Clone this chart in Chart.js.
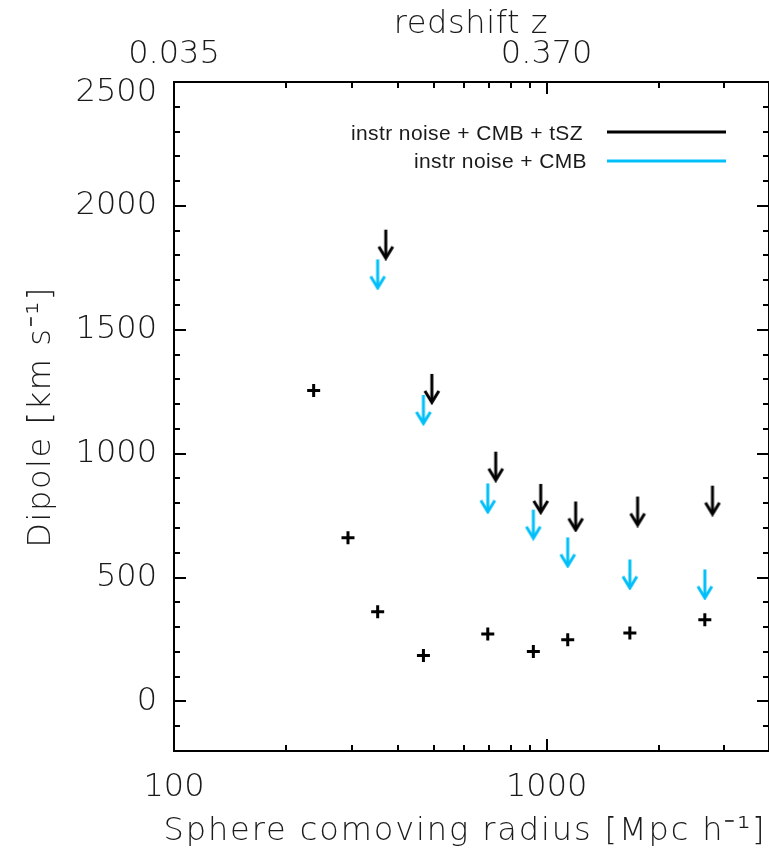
<!DOCTYPE html>
<html>
<head>
<meta charset="utf-8">
<script src="https://cdn.jsdelivr.net/npm/chart.js@4.4.1/dist/chart.umd.min.js"></script>
<style>
  html, body { margin: 0; padding: 0; background: #ffffff; }
  #wrap { width: 769px; height: 853px; position: relative; }
  canvas { display: block; }
</style>
</head>
<body>
<div id="wrap"><canvas id="chart" width="769" height="853"></canvas></div>
<script>
// ---- data ----
const radius    = [237, 293, 352, 467, 695, 921, 1139, 1672, 2657];
const dipole    = [1255, 661, 362, 185, 272, 202, 249, 276, 330];
const cmbRadius = [352, 467, 695, 921, 1139, 1672, 2657];
const cmbLimit  = [1784, 1237, 880, 774, 662, 573, 533];
const tszRadius = [370, 492, 730, 964, 1196, 1754, 2786];
const tszLimit  = [1904, 1322, 1008, 878, 807, 827, 871];

// ---- tick labels ----
const xLabelValues = [100, 1000];
const xLabels      = ['100', '1000'];
const zLabels      = ['0.035', '0.370'];
const yLabelValues = [0, 500, 1000, 1500, 2000, 2500];
const xMinorValues = [200, 300, 400, 500, 600, 700, 800, 900, 2000, 3000];

const seriesNames = ['instr noise + CMB + tSZ', 'instr noise + CMB'];
const xTitle = 'Sphere comoving radius [Mpc h\u207B\u00B9]';
const yTitle = 'Dipole [km s\u207B\u00B9]';
const zTitle = 'redshift z';

const BLACK = '#000000';
const CYAN = '#00bff9';
const TEXT = '#1a1a1a';
const AXIS_FONT = '"DejaVu Sans", "Liberation Sans", sans-serif';

function makeArrow(color) {
  const c = document.createElement('canvas');
  c.width = 18; c.height = 62;
  const g = c.getContext('2d');
  g.strokeStyle = color;
  g.lineWidth = 3;
  g.lineJoin = 'miter';
  g.beginPath(); g.moveTo(9, 31); g.lineTo(9, 59); g.stroke();
  g.beginPath(); g.moveTo(2, 48); g.lineTo(9, 59.5); g.lineTo(16, 48); g.stroke();
  return c;
}

const pts = (xs, ys) => xs.map((x, i) => ({ x: x, y: ys[i] }));

const framePlugin = {
  id: 'frame',
  beforeDatasetsDraw(chart) {
    const { ctx, chartArea: a, scales } = chart;
    const x = scales.x, y = scales.y;
    ctx.save();
    ctx.strokeStyle = BLACK;
    ctx.lineWidth = 2;
    ctx.beginPath();
    ctx.rect(a.left, a.top, a.right - a.left, a.bottom - a.top);
    ctx.stroke();
    ctx.beginPath();
    for (let v = -200; v <= 2500; v += 100) {
      const py = Math.round(y.getPixelForValue(v));
      const len = (v % 500 === 0) ? 12 : 6;
      ctx.moveTo(a.left, py); ctx.lineTo(a.left + len, py);
      ctx.moveTo(a.right, py); ctx.lineTo(a.right - len, py);
    }
    const xt = xMinorValues.map(v => [v, 6]).concat(xLabelValues.map(v => [v, 12]));
    xt.forEach(([v, len]) => {
      const px = Math.round(x.getPixelForValue(v));
      ctx.moveTo(px, a.bottom); ctx.lineTo(px, a.bottom - len);
      ctx.moveTo(px, a.top); ctx.lineTo(px, a.top + len);
    });
    ctx.stroke();
    ctx.restore();
  }
};

const titlePlugin = {
  id: 'titles',
  afterDraw(chart) {
    const ctx = chart.ctx;
    ctx.save();
    ctx.fillStyle = TEXT;
    ctx.font = '200 32px ' + AXIS_FONT;
    ctx.letterSpacing = '1.9px';
    ctx.textAlign = 'center';
    ctx.textBaseline = 'alphabetic';
    ctx.fillText(xTitle, 465, 840);
    ctx.letterSpacing = '0.6px';
    ctx.fillText(zTitle, 471, 33);
    ctx.letterSpacing = '1.6px';
    ctx.translate(50, 417);
    ctx.rotate(-Math.PI / 2);
    ctx.fillText(yTitle, 0, 0);
    ctx.restore();
  }
};

const legendPlugin = {
  id: 'legendLines',
  afterDraw(chart) {
    const ctx = chart.ctx;
    const items = [
      { ds: 2, textRight: 583, base: 139.5, lineY: 132 },
      { ds: 1, textRight: 587, base: 168.3, lineY: 161 }
    ];
    ctx.save();
    ctx.font = '21px "Liberation Sans", Arial, sans-serif';
    ctx.letterSpacing = '0.4px';
    ctx.textAlign = 'right';
    ctx.textBaseline = 'alphabetic';
    items.forEach(it => {
      const ds = chart.data.datasets[it.ds];
      ctx.fillStyle = TEXT;
      ctx.fillText(ds.label, it.textRight, it.base);
      ctx.strokeStyle = ds.legendColor;
      ctx.lineWidth = 3;
      ctx.beginPath();
      ctx.moveTo(607, it.lineY);
      ctx.lineTo(726, it.lineY);
      ctx.stroke();
    });
    ctx.restore();
  }
};

const tickFont = { family: AXIS_FONT, size: 32, weight: '200' };
const noPadX = s => { s.paddingLeft = 0; s.paddingRight = 0; };

new Chart(document.getElementById('chart'), {
  type: 'scatter',
  data: {
    datasets: [
      {
        label: 'dipole',
        data: pts(radius, dipole),
        pointStyle: 'cross',
        pointRadius: 6.5,
        borderWidth: 3,
        borderColor: BLACK,
        backgroundColor: BLACK,
        order: 1
      },
      {
        label: seriesNames[1],
        data: pts(cmbRadius, cmbLimit),
        pointStyle: makeArrow(CYAN),
        legendColor: CYAN,
        order: 3
      },
      {
        label: seriesNames[0],
        data: pts(tszRadius, tszLimit),
        pointStyle: makeArrow(BLACK),
        legendColor: BLACK,
        order: 2
      }
    ]
  },
  options: {
    responsive: false,
    animation: false,
    events: [],
    layout: { padding: 0, autoPadding: false },
    plugins: {
      legend: { display: false },
      tooltip: { enabled: false }
    },
    scales: {
      x: {
        type: 'logarithmic',
        position: 'bottom',
        min: 100,
        max: 3950,
        grid: { display: false, drawTicks: false },
        border: { display: false },
        afterBuildTicks: s => { s.ticks = xLabelValues.map(v => ({ value: v, major: true })); },
        afterFit: s => { s.height = 102; noPadX(s); },
        ticks: {
          autoSkip: false, maxRotation: 0, padding: 17.5,
          color: TEXT, font: tickFont,
          callback: v => { const i = xLabelValues.indexOf(v); return i >= 0 ? xLabels[i] : ''; }
        }
      },
      x2: {
        type: 'logarithmic',
        position: 'top',
        min: 100,
        max: 3950,
        grid: { display: false, drawTicks: false },
        border: { display: false },
        afterBuildTicks: s => { s.ticks = xLabelValues.map(v => ({ value: v, major: true })); },
        afterFit: s => { s.height = 82; noPadX(s); },
        ticks: {
          autoSkip: false, maxRotation: 0, padding: 8,
          color: TEXT, font: tickFont,
          callback: v => { const i = xLabelValues.indexOf(v); return i >= 0 ? zLabels[i] : ''; }
        }
      },
      y: {
        type: 'linear',
        position: 'left',
        min: -200,
        max: 2500,
        grid: { display: false, drawTicks: false },
        border: { display: false },
        afterBuildTicks: s => { s.ticks = yLabelValues.map(v => ({ value: v })); },
        afterFit: s => { s.width = 174; s.paddingTop = 0; s.paddingBottom = 0; },
        ticks: {
          autoSkip: false, padding: 17,
          color: TEXT,
          // the top label sits just below its tick, as in the reference
          font: ctx => (ctx.tick && ctx.tick.value === 2500)
            ? Object.assign({}, tickFont, { lineHeight: '22px' })
            : tickFont,
          callback: v => (v === 2500 ? ['', String(v)] : String(v))
        }
      }
    }
  },
  plugins: [framePlugin, titlePlugin, legendPlugin]
});
</script>
</body>
</html>
